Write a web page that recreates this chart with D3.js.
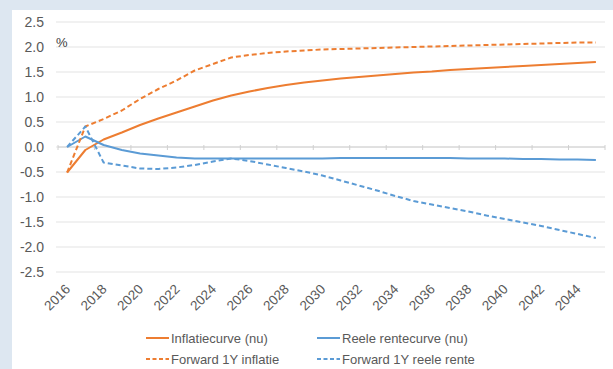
<!DOCTYPE html>
<html>
<head>
<meta charset="utf-8">
<script src="https://cdn.jsdelivr.net/npm/d3@7"></script>
<style>
  body { margin: 0; background: #dde7f1; }
  svg { display: block; font-family: "Liberation Sans", Arial, sans-serif; }
</style>
</head>
<body>
<div id="chart"></div>
<script>
var width = 613, height = 369;

// Data
var years = d3.range(2016, 2046);
var yTicks = [2.5, 2.0, 1.5, 1.0, 0.5, 0.0, -0.5, -1.0, -1.5, -2.0, -2.5];

var inflatieNu = [-0.51, -0.06, 0.15, 0.29, 0.44, 0.57, 0.69, 0.81, 0.93, 1.03,
  1.11, 1.18, 1.24, 1.29, 1.33, 1.37, 1.40, 1.43, 1.46, 1.49,
  1.51, 1.54, 1.56, 1.58, 1.60, 1.62, 1.64, 1.66, 1.68, 1.70];
var forwardInflatie = [-0.51, 0.41, 0.56, 0.73, 0.96, 1.16, 1.33, 1.53, 1.66, 1.79,
  1.84, 1.88, 1.91, 1.93, 1.95, 1.96, 1.97, 1.98, 1.99, 2.00,
  2.01, 2.02, 2.03, 2.04, 2.05, 2.06, 2.07, 2.08, 2.09, 2.09];
var reeleNu = [0.0, 0.21, 0.04, -0.06, -0.13, -0.17, -0.21, -0.23, -0.23, -0.23,
  -0.23, -0.23, -0.23, -0.23, -0.23, -0.22, -0.22, -0.22, -0.22, -0.22,
  -0.22, -0.22, -0.23, -0.23, -0.23, -0.24, -0.24, -0.25, -0.25, -0.26];
var forwardReele = [0.0, 0.41, -0.31, -0.37, -0.43, -0.44, -0.41, -0.36, -0.29, -0.23,
  -0.28, -0.35, -0.42, -0.49, -0.57, -0.67, -0.77, -0.87, -0.98, -1.08,
  -1.15, -1.22, -1.29, -1.37, -1.44, -1.51, -1.58, -1.66, -1.74, -1.82];

var series = [
  {name: "Inflatiecurve (nu)", values: inflatieNu, color: "#ED7D31", dash: null},
  {name: "Reele rentecurve (nu)", values: reeleNu, color: "#5B9BD5", dash: null},
  {name: "Forward 1Y inflatie", values: forwardInflatie, color: "#ED7D31", dash: "5,3"},
  {name: "Forward 1Y reele rente", values: forwardReele, color: "#5B9BD5", dash: "5,3"}
];

var margin = {left: 58, right: 8, top: 22, bottom: 97};

var x = d3.scaleBand()
    .domain(years)
    .range([margin.left, width - margin.right]);
var y = d3.scaleLinear()
    .domain([-2.5, 2.5])
    .range([height - margin.bottom, margin.top]);

var svg = d3.select("#chart").append("svg")
    .attr("width", width)
    .attr("height", height);

// white panel
svg.append("rect")
    .attr("x", 12).attr("y", 10)
    .attr("width", width - 12).attr("height", height - 10)
    .attr("fill", "#ffffff");

// gridlines
svg.append("g")
    .selectAll("line")
    .data(yTicks)
    .enter().append("line")
      .attr("x1", margin.left - 2)
      .attr("x2", width - margin.right)
      .attr("y1", function(d) { return y(d); })
      .attr("y2", function(d) { return y(d); })
      .attr("stroke", "#e3e3e3")
      .attr("stroke-width", 1);

// y labels
svg.append("g")
    .selectAll("text")
    .data(yTicks)
    .enter().append("text")
      .attr("x", 44)
      .attr("y", function(d) { return y(d); })
      .attr("dy", "0.35em")
      .attr("text-anchor", "end")
      .attr("font-size", 14)
      .attr("fill", "#595959")
      .text(function(d) { return d3.format(".1f")(d).replace("−", "-"); });

// category axis on zero line
svg.append("line")
    .attr("x1", margin.left).attr("x2", width - margin.right)
    .attr("y1", y(0)).attr("y2", y(0))
    .attr("stroke", "#d0d0d0");
svg.append("g")
    .selectAll("line")
    .data(years.filter(function(d, i) { return i % 2 == 0; }).concat([2046]))
    .enter().append("line")
      .attr("x1", function(d) { return d == 2046 ? width - margin.right : x(d); })
      .attr("x2", function(d) { return d == 2046 ? width - margin.right : x(d); })
      .attr("y1", y(0) - 2)
      .attr("y2", y(0) + 3)
      .attr("stroke", "#d0d0d0");

// x labels, rotated
svg.append("g")
    .selectAll("text")
    .data(years.filter(function(d, i) { return i % 2 == 0; }))
    .enter().append("text")
      .attr("transform", function(d) {
        return "translate(" + (x(d) + x.bandwidth() / 2 + 4) + "," + 290 + ") rotate(-45)";
      })
      .attr("text-anchor", "end")
      .attr("font-size", 13.5)
      .attr("fill", "#595959")
      .text(function(d) { return d; });

// % label
svg.append("text")
    .attr("x", 56).attr("y", 47)
    .attr("font-size", 13)
    .attr("fill", "#404040")
    .text("%");

// lines
var line = d3.line()
    .x(function(d, i) { return x(years[i]) + x.bandwidth() / 2; })
    .y(function(d) { return y(d); });

svg.append("g")
    .selectAll("path")
    .data(series)
    .enter().append("path")
      .attr("d", function(d) { return line(d.values); })
      .attr("fill", "none")
      .attr("stroke", function(d) { return d.color; })
      .attr("stroke-width", 2)
      .attr("stroke-dasharray", function(d) { return d.dash; })
      .attr("stroke-linejoin", "round");

// legend
var legendPos = [[146, 338], [317, 338], [146, 359], [317, 359]];
var legend = svg.append("g")
    .selectAll("g")
    .data(series)
    .enter().append("g")
      .attr("transform", function(d, i) { return "translate(" + legendPos[i][0] + "," + legendPos[i][1] + ")"; });
legend.append("line")
    .attr("x1", 0).attr("x2", 23)
    .attr("stroke", function(d) { return d.color; })
    .attr("stroke-width", 2)
    .attr("stroke-dasharray", function(d) { return d.dash ? "4,2.5" : null; });
legend.append("text")
    .attr("x", 25)
    .attr("dy", "0.35em")
    .attr("font-size", 13)
    .attr("fill", "#595959")
    .text(function(d) { return d.name; });
</script>
</body>
</html>
